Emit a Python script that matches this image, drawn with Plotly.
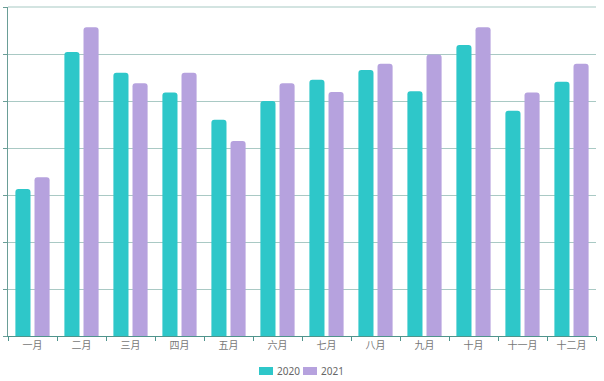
import plotly.graph_objects as go

months = ["一月", "二月", "三月", "四月", "五月", "六月", "七月", "八月", "九月", "十月", "十一月", "十二月"]
series_names = ["2020", "2021"]
values_2020 = [31.3, 60.4, 56.0, 51.8, 46.0, 50.0, 54.5, 56.6, 52.1, 61.9, 47.9, 54.1]
values_2021 = [33.8, 65.7, 53.8, 56.0, 41.5, 53.8, 51.9, 57.9, 59.9, 65.7, 51.8, 57.9]
colors = ["#2ec7c9", "#b6a2de"]

fig = go.Figure()
for name, vals, col in zip(series_names, [values_2020, values_2021], colors):
    fig.add_trace(go.Bar(x=months, y=vals, name=name, showlegend=False, hoverinfo="x+y+name",
                         marker=dict(color=col, line=dict(width=0))))

# custom legend (rounded rectangles + labels), in paper coordinates
W, H = 604, 381
L, R, T, B = 8, 8, 7, 45
pw, ph = W - L - R, H - T - B
def px(x):
    return (x - L) / pw
def py(y):
    return (H - B - y) / ph

legend_x = [259, 303]
for lx, name, col in zip(legend_x, series_names, colors):
    fig.add_shape(type="rect", xref="paper", yref="paper",
                  x0=px(lx), x1=px(lx + 14), y0=py(375), y1=py(367),
                  fillcolor=col, line=dict(width=0), layer="above")
    fig.add_annotation(text=name, xref="paper", yref="paper", x=px(lx + 16), y=py(371),
                       xanchor="left", yanchor="middle", showarrow=False,
                       font=dict(size=10, color="#666", family="Noto Sans, sans-serif"))

fig.update_layout(
    width=W, height=H,
    margin=dict(l=L, r=R, t=T, b=B, autoexpand=False),
    paper_bgcolor="white", plot_bgcolor="white",
    barmode="group", bargap=0.22, bargroupgap=0.21,
    barcornerradius=3,
    font=dict(family="Noto Sans CJK SC, Noto Sans, sans-serif", size=10, color="#666"),
    showlegend=False,
    xaxis=dict(showline=True, linecolor="#4f948c", linewidth=1, ticks="outside",
               ticklen=4, tickcolor="#4f948c", tickson="boundaries", automargin=False,
               showgrid=False, tickfont=dict(size=10, color="#777")),
    yaxis=dict(range=[0, 70], dtick=10, showline=True, linecolor="#6a9e97", linewidth=1,
               ticks="outside", ticklen=4, tickcolor="#6a9e97", showticklabels=False,
               automargin=False, showgrid=True, gridcolor="#a9c9c4", gridwidth=1,
               zeroline=False, mirror=False),
)
# top border line (lighter)
fig.add_shape(type="line", xref="paper", yref="paper", x0=0, x1=1, y0=1, y1=1,
              line=dict(color="#c4dbd7", width=1.5))
fig.write_html("out.html", config={"displayModeBar": False},
               post_script="document.body.style.margin='0';document.body.style.overflow='hidden';")
